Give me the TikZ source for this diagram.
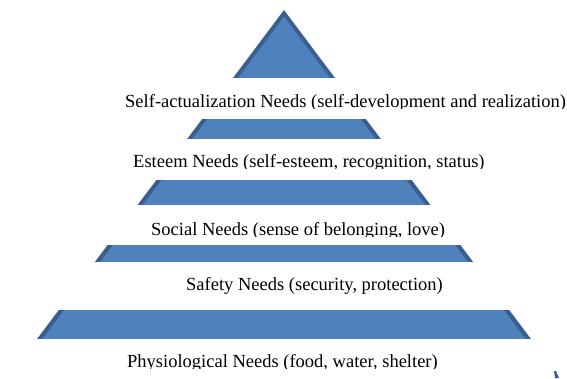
\documentclass[tikz,border=0pt]{standalone}
\usepackage{fontspec}
\setmainfont{Liberation Serif}
\definecolor{pyrblue}{HTML}{4F81BD}
\definecolor{pyredge}{HTML}{3A5F8E}
\tikzset{
  tier/.style={fill=pyrblue},
  tieredge/.style={fill=pyredge},
  needtext/.style={anchor=base west,inner sep=0pt,font=\fontsize{18.5}{20}\selectfont}
}
\begin{document}
\begin{tikzpicture}[x=1pt,y=-1pt]
\useasboundingbox (0,0) rectangle (567,378);
% pyramid tiers: one triangle seen through five bands
\foreach \top/\bot in {0/77,119/138,180/204,245/261,310/338}{
  \begin{scope}
    \clip (0,\top) rectangle (567,\bot);
    \fill[tieredge] (284,10) -- (540,351) -- (28,351) -- cycle;
    \fill[tier] (284,16.7) -- (534.6,351) -- (33.4,351) -- cycle;
  \end{scope}
}
% labels, cut at the foot of their boxes
\begin{scope}
  \clip (0,80) rectangle (567,108.5);
  \node[needtext] (self) at (125,107) {Self-actualization Needs (self-development and realization)};
\end{scope}
\begin{scope}
  \clip (0,145) rectangle (567,168.5);
  \node[needtext] (esteem) at (133,167) {Esteem Needs (self-esteem, recognition, status)};
\end{scope}
\begin{scope}
  \clip (0,210) rectangle (567,236.5);
  \node[needtext] (social) at (151,235) {Social Needs (sense of belonging, love)};
\end{scope}
\node[needtext] (safety) at (186,290) {Safety Needs (security, protection)};
\begin{scope}
  \clip (0,340) rectangle (567,368.5);
  \node[needtext] (physio) at (127,367) {Physiological Needs (food, water, shelter)};
\end{scope}
% stray fragment in the lower right corner
\fill[tieredge] (554,371) -- (556,371) -- (559,378) -- (555,378) -- cycle;
\end{tikzpicture}
\end{document}
